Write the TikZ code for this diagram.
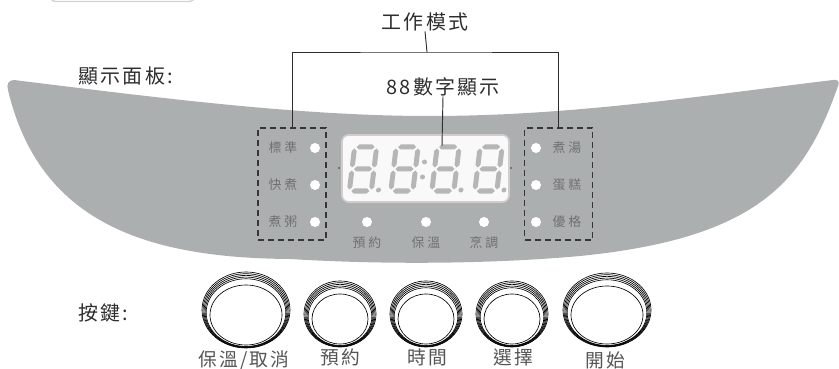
\documentclass[tikz,border=0pt]{standalone}
\usepackage{fontspec}
\newfontfamily\cjk{Noto Sans CJK TC}[LetterSpace=12]
\newfontfamily\cjksmall{Noto Sans CJK TC}[LetterSpace=22]
\usetikzlibrary{positioning}
\definecolor{panelgray}{RGB}{172,175,176}
\definecolor{textdark}{RGB}{45,45,45}
\definecolor{keygray}{RGB}{85,85,85}
\definecolor{ledgray}{RGB}{112,112,112}
\definecolor{seggray}{RGB}{182,182,182}
\definecolor{dashgray}{RGB}{55,55,55}
\definecolor{rimgray}{RGB}{212,204,204}

\tikzset{
  bigtext/.style={font=\cjk\fontsize{17}{20}\selectfont, text=textdark, inner sep=0pt},
  keytext/.style={font=\cjk\fontsize{16}{19}\selectfont, text=keygray, inner sep=0pt},
  ledtext/.style={font=\cjksmall\fontsize{11}{13}\selectfont, text=ledgray, inner sep=0pt},
  led/.style={circle, fill=white, inner sep=0pt, minimum size=3mm},
  modebox/.style={draw=dashgray, line width=1pt, dash pattern=on 1.8mm off 1.2mm,
                  minimum width=2.04cm, minimum height=3.36cm, inner sep=0pt},
  bracket/.style={draw=textdark, line width=0.8pt},
  keyline/.style={draw=black, line width=0.55pt}
}

% one segment of the led digits, centre given
\newcommand{\hseg}[2]{\fill[seggray] (#1-9,#2) -- ++(2.5,2.5) -- ++(13,0) -- ++(2.5,-2.5) -- ++(-2.5,-2.5) -- ++(-13,0) -- cycle;}
\newcommand{\vseg}[2]{\fill[seggray] (#1,#2-9.5) -- ++(2.5,2.5) -- ++(0,14) -- ++(-2.5,2.5) -- ++(-2.5,-2.5) -- ++(0,-14) -- cycle;}
% key with its rings: cx, cy, rx, ry
\newcommand{\drawkey}[4]{%
  \foreach \t in {0,0.13,0.26,0.39,0.52,1}{
    \draw[keyline] (#1,{#2+5*\t}) ellipse [x radius={#3-8*\t}, y radius={#4-8*\t}];
  }}

\begin{document}
\begin{tikzpicture}[x=0.03cm, y=-0.03cm]
\clip (0,0) rectangle (839,369);

% cut button at the top
\draw[gray!35, line width=1.2pt, rounded corners=5] (50,-30) rectangle (195,1.5);

% panel
\fill[panelgray] (14,80) .. controls (160,98) and (300,116) .. (430,116)
  .. controls (570,116) and (700,96) .. (833,80)
  .. controls (838,79) and (840,82) .. (838,86)
  .. controls (805,180) and (760,238) .. (580,256)
  .. controls (480,265) and (370,264) .. (290,259)
  .. controls (150,258) and (40,225) .. (8,90)
  .. controls (6,84) and (9,80) .. (14,80) -- cycle;

% display with the digits
\node[draw=rimgray, line width=1.4pt, fill=gray!5, rounded corners=0.2cm,
      minimum width=5.01cm, minimum height=2.01cm] (disp) at (425.5,168.5) {};
\foreach \dx/\dot in {363/1,404.5/0,445.5/1,488.5/1}{
  \begin{scope}[shift={(\dx,169)}, xslant=0.12]
    \hseg{0}{-22}\hseg{0}{0}\hseg{0}{22}
    \vseg{-11}{-11}\vseg{11}{-11}\vseg{-11}{11}\vseg{11}{11}
    \ifnum\dot=1 \fill[seggray] (18,21) circle [radius=2.5]; \fi
  \end{scope}
}
\fill[seggray] (424.5,162) circle [radius=2.5];
\fill[seggray] (422.5,177) circle [radius=2.5];
\fill[dashgray] (339,168) circle [radius=0.8];
\fill[dashgray] (511,168) circle [radius=0.8];
\coordinate (d3top) at (442,146);

% mode groups
\node[modebox] (leftbox) at (292,184) {};
\node[modebox] (rightbox) at (558.5,184) {};

\node[led] (ledA) at (315,148) {};
\node[led] (ledB) at (315,185) {};
\node[led] (ledC) at (315,222) {};
\node[ledtext] (std) at (283,148) {標準};
\node[ledtext] (quick) at (283,185) {快煮};
\node[ledtext] (congee) at (283,222) {煮粥};

\node[led] (ledD) at (536,148) {};
\node[led] (ledE) at (536,185) {};
\node[led] (ledF) at (536,222) {};
\node[ledtext] (soup) at (567,148) {煮湯};
\node[ledtext] (cake) at (567,185) {蛋糕};
\node[ledtext] (yog) at (567,222) {優格};

\node[led] (ledP) at (367,222) {};
\node[led] (ledQ) at (426,222) {};
\node[led] (ledR) at (484,222) {};
\node[ledtext, below=0.63cm of ledP.center, anchor=center] (pre) {預約};
\node[ledtext, below=0.63cm of ledQ.center, anchor=center] (warm) {保溫};
\node[ledtext, below=0.63cm of ledR.center, anchor=center] (cook) {烹調};

% labels above
\node[bigtext] (mode) at (425,22) {工作模式};
\node[bigtext, anchor=west] (panel) at (78,76) {顯示面板:};
\node[bigtext] (digits) at (443,87) {88數字顯示};
\coordinate (fork) at (427,52);

\draw[bracket] (mode.south) -- (fork);
\draw[bracket] (leftbox.north) |- (fork) -| (rightbox.north);
\draw[bracket] (digits.south) -- (d3top);

% keys
\node[bigtext, anchor=west] (keys) at (78,313) {按鍵:};
\drawkey{246}{310}{44}{38}
\drawkey{340}{314}{36}{33}
\drawkey{426}{314}{36}{33}
\drawkey{512}{314}{36}{33}
\drawkey{607}{310}{44}{37}
\node[keytext] (kwarm) at (244,360) {保溫/取消};
\node[keytext] (kpre) at (340,357) {預約};
\node[keytext] (ktime) at (427,357) {時間};
\node[keytext] (ksel) at (513,357) {選擇};
\node[keytext] (kstart) at (605,360) {開始};

\end{tikzpicture}
\end{document}
